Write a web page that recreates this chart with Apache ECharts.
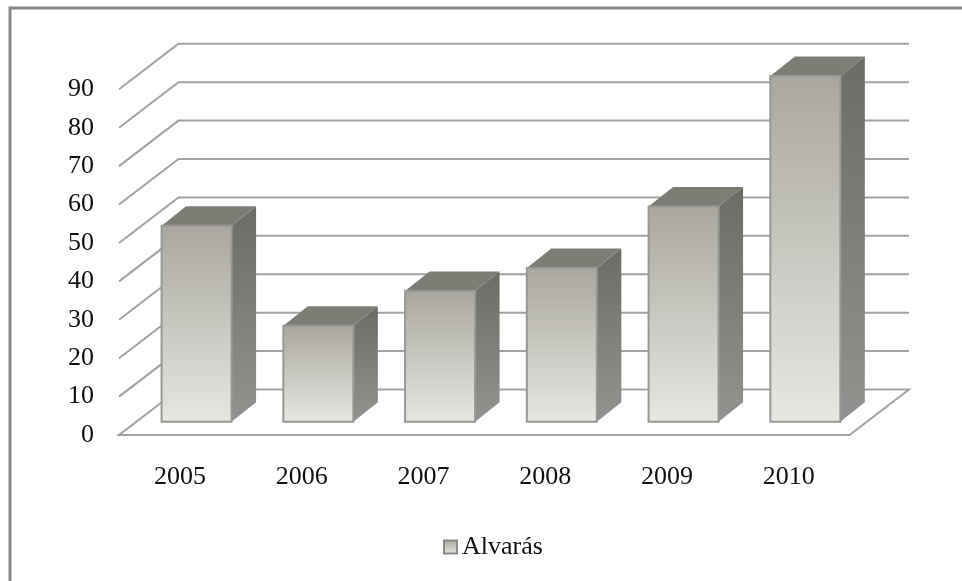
<!DOCTYPE html>
<html><head><meta charset="utf-8">
<style>html,body{margin:0;padding:0;background:#fff}#c{width:962px;height:581px}</style>
<script src="https://cdn.jsdelivr.net/npm/echarts@6/dist/echarts.min.js"></script>
</head><body><div id="c"></div>
<script>
const categories = ['2005','2006','2007','2008','2009','2010'];
const seriesName = 'Alvarás';
const values = [51,25,34,40,56,90];
const yTicks = [0,10,20,30,40,50,60,70,80,90];

const FONT = '"Liberation Serif","Times New Roman",serif';
const WALL_DX = 59.5, WALL_DY = 45.5;
const BAR_SHIFT_X = 16.7, BAR_SHIFT_Y = 13.3;
const BAR_W = 70, BAR_DX = 24.5, BAR_DY = 19.5;
const LINE = '#a3a3a3';

const grad = (a,b) => new echarts.graphic.LinearGradient(0,0,0,1,[{offset:0,color:a},{offset:1,color:b}]);

function renderWall(params, api){
  const v = api.value(0);
  const g = params.coordSys;
  const y = api.coord([0,v])[1];
  const x0 = g.x, x1 = g.x + g.width;
  const style = {fill:'none', stroke:LINE, lineWidth:2};
  const pts = v === 0
    ? [[x0+WALL_DX,y-WALL_DY],[x1+WALL_DX,y-WALL_DY],[x1,y],[x0,y],[x0+WALL_DX,y-WALL_DY]]
    : [[x0,y],[x0+WALL_DX,y-WALL_DY],[x1+WALL_DX,y-WALL_DY]];
  return {type:'polyline', shape:{points:pts}, style, silent:true};
}

function renderBar(params, api){
  const c = api.coord([api.value(0), api.value(1)]);
  const b = api.coord([api.value(0), 0]);
  const l = c[0] + BAR_SHIFT_X - BAR_W/2, r = l + BAR_W;
  const t = c[1] - BAR_SHIFT_Y, bt = b[1] - BAR_SHIFT_Y;
  return {type:'group', children:[
    {type:'polygon', shape:{points:[[r,t],[r+BAR_DX,t-BAR_DY],[r+BAR_DX,bt-BAR_DY],[r,bt]]},
      style:{fill:grad('#6c6c65','#929290')}},
    {type:'polygon', shape:{points:[[l,t],[l+BAR_DX,t-BAR_DY],[r+BAR_DX,t-BAR_DY],[r,t]]},
      style:{fill:'#7e7d75'}},
    {type:'rect', shape:{x:l,y:t,width:BAR_W,height:bt-t},
      style:{fill:grad('#a9a79d','#e7e7e3'), stroke:'#989896', lineWidth:2}}
  ]};
}

const chart = echarts.init(document.getElementById('c'), null, {renderer:'canvas'});
chart.setOption({
  animation:false,
  backgroundColor:'#fff',
  grid:{left:119, right:112.5, top:89.3, bottom:146},
  xAxis:{type:'category', data:categories,
    axisLine:{show:false}, axisTick:{show:false}, splitLine:{show:false},
    axisLabel:{margin:29, fontFamily:FONT, fontSize:26, color:'#111'}},
  yAxis:{type:'value', min:0, max:90, interval:10,
    axisLine:{show:false}, axisTick:{show:false}, splitLine:{show:false},
    axisLabel:{margin:25, fontFamily:FONT, fontSize:26, color:'#111', padding:[3,0,0,0]}},
  legend:{data:[{name:seriesName, icon:'rect'}], left:443, top:534, itemWidth:13, itemHeight:13, itemGap:7,
    textStyle:{fontFamily:FONT, fontSize:26, color:'#111', padding:[0,0,0,0]},
    itemStyle:{color:grad('#a9a79d','#e7e7e3'), borderColor:'#8a8a88', borderWidth:2},
    selectedMode:false, padding:0},
  graphic:[{type:'polyline', silent:true, z:-1,
    shape:{points:[[10,581],[10,8],[962,8]]},
    style:{fill:'none', stroke:'#888', lineWidth:3}}],
  series:[
    {type:'custom', name:'walls', silent:true, z:1, renderItem:renderWall,
     data:yTicks.map(v=>[v]), encode:{y:0}},
    {type:'custom', name:seriesName, z:2, renderItem:renderBar,
     data:values.map((v,i)=>[i,v]), encode:{x:0,y:1},
     itemStyle:{color:grad('#a9a79d','#e7e7e3')}}
  ]
});
</script></body></html>
